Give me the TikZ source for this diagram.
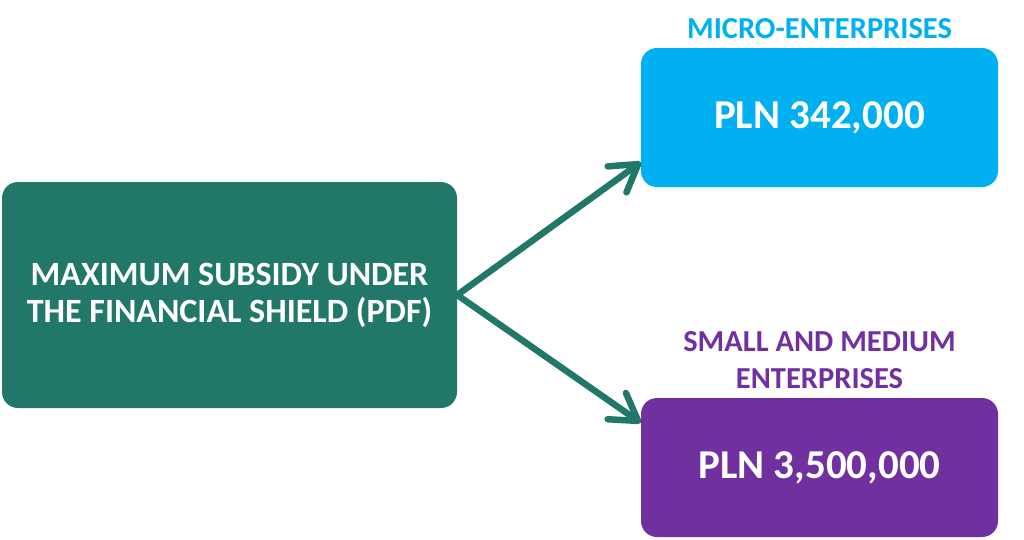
\documentclass[tikz,border=0pt]{standalone}
\usepackage{fontspec}
\setmainfont{Carlito}
\usetikzlibrary{arrows.meta}

\definecolor{shieldteal}{HTML}{227868}
\definecolor{microblue}{HTML}{00B0F0}
\definecolor{smepurple}{HTML}{7030A0}

\begin{document}
\begin{tikzpicture}[x=1pt, y=-1pt,
    box/.style={rounded corners=16pt, inner sep=0pt, align=center, text=white,
      font=\fontsize{34}{37}\selectfont\bfseries},
    amount/.style={box, minimum width=357pt, minimum height=139pt,
      font=\fontsize{41}{46}\selectfont\bfseries},
    heading/.style={align=center, inner sep=0pt, anchor=base,
      font=\fontsize{30.5}{37}\selectfont\bfseries},
    arr/.style={shieldteal, line width=6.5pt,
      -{Straight Barb[length=26pt, width=32pt, round]}}]
  \useasboundingbox (0,0) rectangle (1024,539);

  % Boxes
  \node[box, fill=shieldteal, minimum width=455pt, minimum height=226pt]
    (shield) at (229.5,295) {MAXIMUM SUBSIDY UNDER\\THE FINANCIAL SHIELD (PDF)};
  \node[amount, fill=microblue] (micro) at (819.5,117.5) {PLN 342,000};
  \node[amount, fill=smepurple] (sme) at (819.5,467.5) {PLN 3,500,000};

  % Headings
  \node[heading, text=microblue] (microhead) at (819.5,38) {MICRO-ENTERPRISES};
  \node[heading, text=smepurple] (smehead) at (819.5,388)
    {SMALL AND MEDIUM\\ENTERPRISES};

  % Arrows
  \draw[arr] (shield.east) -- ([yshift=25pt]micro.south west);
  \draw[arr] (shield.east) -- ([yshift=-25pt]sme.north west);
\end{tikzpicture}
\end{document}
